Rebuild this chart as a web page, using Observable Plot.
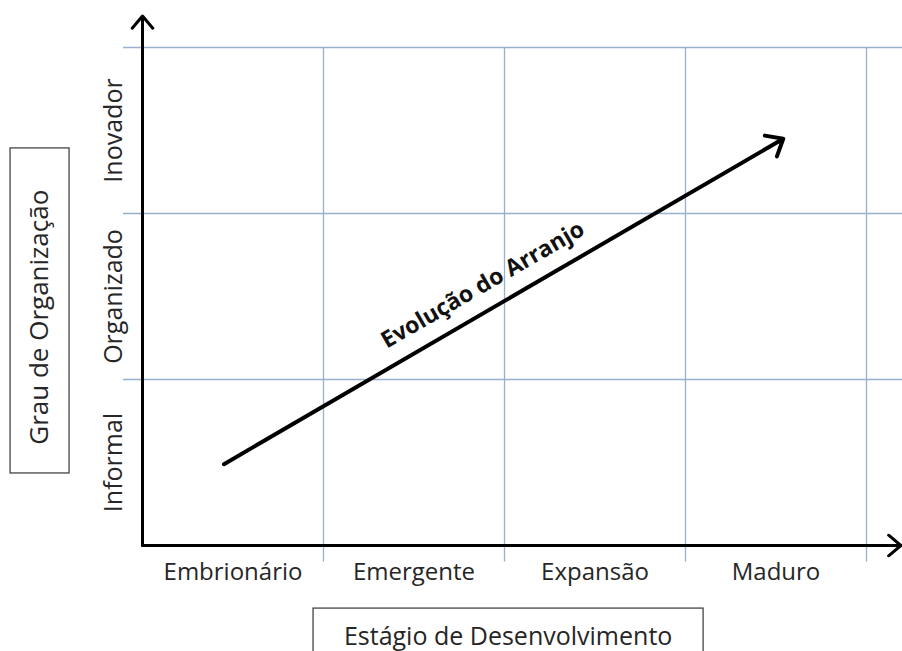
<!DOCTYPE html>
<html>
<head>
<meta charset="utf-8">
<script src="https://cdn.jsdelivr.net/npm/d3@7"></script>
<script src="https://cdn.jsdelivr.net/npm/@observablehq/plot@0.6"></script>
<style>
  html, body { margin: 0; padding: 0; background: #fff; overflow: hidden; }
  #chart svg { display: block; }
</style>
</head>
<body>
<div id="chart"></div>
<script>
// Categories
const stages = ["Embrionário", "Emergente", "Expansão", "Maduro"];      // x categories
const levels = ["Informal", "Organizado", "Inovador"];                  // y categories
const xTitle = "Estágio de Desenvolvimento";
const yTitle = "Grau de Organização";
const arrowLabel = "Evolução do Arranjo";
// Evolution arrow: [stage position, level position] start and end
const evolFrom = [0.45, 0.49];
const evolTo = [3.54, 2.45];

const font = "'Open Sans', Calibri, sans-serif";
const gridColor = "#98b0cc";
const textColor = "#262626";

const xBounds = d3.range(stages.length + 1);   // 0..4
const yBounds = d3.range(levels.length + 1);   // 0..3

const chart = Plot.plot({
  width: 902,
  height: 651,
  marginLeft: 142,
  marginRight: 36,
  marginTop: 47,
  marginBottom: 106,
  style: { fontFamily: font, background: "#fff" },
  x: { domain: [0, stages.length], axis: null },
  y: { domain: [0, levels.length], axis: null },
  marks: [
    // horizontal grid lines
    Plot.ruleY(yBounds.slice(1), { x1: -0.105, x2: 4.25, stroke: gridColor, strokeWidth: 1.3 }),
    // vertical grid lines
    Plot.ruleX(xBounds.slice(1), { y1: -0.1, y2: 3, stroke: gridColor, strokeWidth: 1.3 }),
    // axes as arrows
    Plot.arrow([0], { x1: 0, y1: 0, x2: 4.19, y2: 0, stroke: "#000", strokeWidth: 3, headLength: 8, headAngle: 80 }),
    Plot.arrow([0], { x1: 0, y1: 0, x2: 0, y2: 3.19, stroke: "#000", strokeWidth: 3, headLength: 8, headAngle: 80 }),
    // x tick labels
    Plot.text(stages, { x: (d, i) => i + 0.5, y: -0.163, text: d => d, fontSize: 24, fill: textColor }),
    // y tick labels
    Plot.text(levels, { x: -0.16, y: (d, i) => i + 0.5, text: d => d, rotate: -90, fontSize: 25, fill: textColor }),
    // evolution arrow
    Plot.arrow([0], { x1: evolFrom[0], y1: evolFrom[1], x2: evolTo[0], y2: evolTo[1], stroke: "#000", strokeWidth: 4, headLength: 7, headAngle: 80 }),
    Plot.text([arrowLabel], { x: 1.88, y: 1.57, text: d => d, rotate: -30, fontSize: 23, fontWeight: "bold", fill: "#111" }),
    // y title box
    Plot.rect([0], { x1: -0.729, x2: -0.403, y1: 0.434, y2: 2.392, fill: "#fff", stroke: "#444", strokeWidth: 1.3 }),
    Plot.text([yTitle], { x: -0.566, y: 1.375, text: d => d, rotate: -90, fontSize: 26, fill: textColor }),
    // x title box
    Plot.rect([0], { x1: 0.945, x2: 3.10, y1: -0.38, y2: -0.66, fill: "#fff", stroke: "#444", strokeWidth: 1.3 }),
    Plot.text([xTitle], { x: 2.02, y: -0.55, text: d => d, fontSize: 25, fill: textColor })
  ]
});
document.getElementById("chart").appendChild(chart);
</script>
</body>
</html>
